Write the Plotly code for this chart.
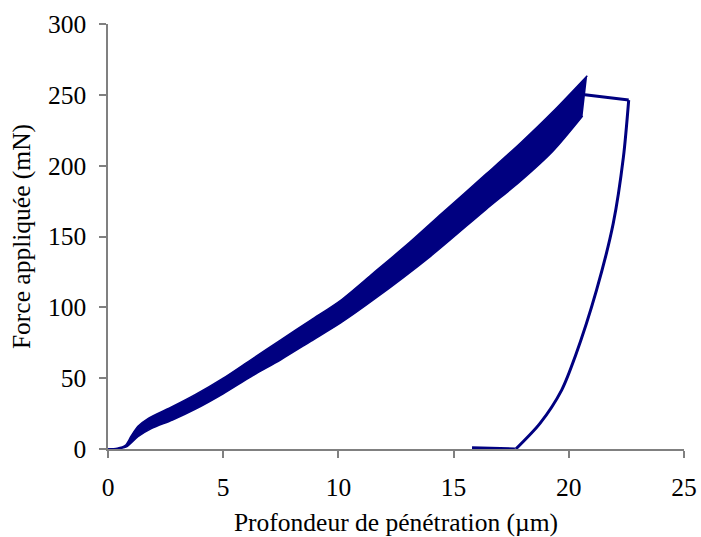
import plotly.graph_objects as go

# Loading band (CSM oscillation envelope): upper and lower edges
load_upper_depth = [0, 0.4, 0.75, 1.0, 1.3, 1.75, 2.8, 3.8, 5.0, 6.2, 7.5, 8.8, 10.1, 11.5, 13.1, 14.5, 16.4, 17.9, 19.3, 20.8]
load_upper_force = [0, 0.5, 2.5, 9, 16, 21.6, 30, 38.5, 50, 63, 77, 91, 105, 124, 146, 166.5, 194, 216, 238, 263.5]
load_lower_depth = [0, 0.5, 0.8, 1.3, 1.9, 2.8, 3.8, 5.0, 6.2, 7.5, 8.8, 10.1, 11.5, 14.0, 16.4, 17.9, 19.3, 20.6]
load_lower_force = [0, 0.3, 1.5, 8.7, 14.6, 20.5, 28.2, 39, 51, 63, 76, 89, 105, 136, 169, 189, 210, 235]

# Hold segment
hold_depth = [20.7, 22.6]
hold_force = [250, 246.3]

# Unloading
unload_depth = [22.6, 22.37, 21.93, 21.2, 20.27, 19.69, 18.75, 17.7]
unload_force = [246.3, 206, 159.3, 112, 65, 41.6, 18.1, 0]

# Tail segment near zero load
tail_depth = [17.66, 16.7, 15.8]
tail_force = [0, 0.4, 0.9]

x_ticks = [0, 5, 10, 15, 20, 25]
y_ticks = [0, 50, 100, 150, 200, 250, 300]

navy = "#000080"
font_family = "Liberation Serif, Times New Roman, serif"

fig = go.Figure()
fig.add_trace(go.Scatter(x=load_lower_depth, y=load_lower_force, mode="lines",
                         line=dict(color=navy, width=1.5, shape="spline", smoothing=0.8),
                         showlegend=False, hoverinfo="skip"))
fig.add_trace(go.Scatter(x=load_upper_depth, y=load_upper_force, mode="lines",
                         fill="tonexty", fillcolor=navy,
                         line=dict(color=navy, width=1.5, shape="spline", smoothing=0.8),
                         showlegend=False, hoverinfo="skip"))
fig.add_trace(go.Scatter(x=hold_depth, y=hold_force, mode="lines",
                         line=dict(color=navy, width=3), showlegend=False))
fig.add_trace(go.Scatter(x=unload_depth, y=unload_force, mode="lines",
                         line=dict(color=navy, width=3, shape="spline", smoothing=0.8),
                         showlegend=False))
fig.add_trace(go.Scatter(x=tail_depth, y=tail_force, mode="lines",
                         line=dict(color=navy, width=3), showlegend=False))

axis_common = dict(showline=True, linecolor="#808080", linewidth=1.5,
                   ticks="outside", ticklen=7, tickcolor="#808080", tickwidth=1.5,
                   showgrid=False, zeroline=False, automargin=False,
                   tickfont=dict(family=font_family, size=25.5, color="black"))

fig.update_xaxes(range=[0, 25], tickvals=x_ticks, ticklabelstandoff=8,
                 title=dict(text="Profondeur de pénétration (µm)",
                            font=dict(family=font_family, size=25.5, color="black"),
                            standoff=14),
                 **axis_common)
fig.update_yaxes(range=[0, 300], tickvals=y_ticks, ticklabelstandoff=8,
                 title=dict(text="Force appliquée (mN)",
                            font=dict(family=font_family, size=25.5, color="black"),
                            standoff=10),
                 **axis_common)

fig.update_layout(width=701, height=537,
                  margin=dict(l=108, r=17, t=24, b=88),
                  paper_bgcolor="white", plot_bgcolor="white",
                  font=dict(family=font_family))

# Remove the default page margin so the figure fills the window exactly
fig.write_html("out.html",
               config={"displayModeBar": False},
               post_script="document.body.style.margin='0';document.body.style.overflow='hidden';")
